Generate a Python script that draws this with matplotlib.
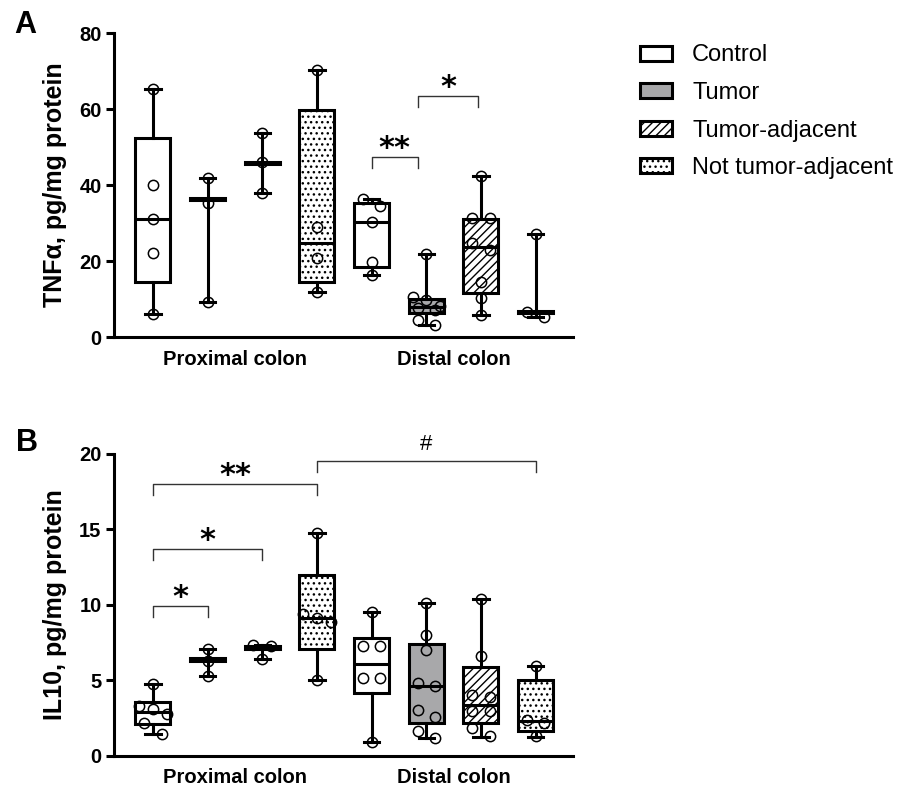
import numpy as np
import matplotlib.pyplot as plt
from matplotlib.patches import Patch

plt.rcParams['font.family'] = ['Liberation Sans', 'DejaVu Sans']
plt.rcParams['hatch.linewidth'] = 1.0

GROUPS = ['Control', 'Tumor', 'Tumor-adjacent', 'Not tumor-adjacent']
REGIONS = ['Proximal colon', 'Distal colon']

# boxes: 4 proximal then 4 distal, groups in GROUPS order
# each row: [whisker low, Q1, median, Q3, whisker high]
TNF_STATS = [
    [6.0, 14.6, 31.0, 52.4, 65.2],
    [9.3, 36.0, 36.3, 36.6, 41.9],
    [38.0, 45.6, 45.9, 46.2, 53.8],
    [11.9, 14.6, 24.8, 59.7, 70.4],
    [16.3, 18.5, 30.3, 35.3, 36.4],
    [3.2, 6.2, 8.0, 9.9, 21.8],
    [5.8, 11.5, 23.8, 31.0, 42.4],
    [5.3, 6.2, 6.5, 6.8, 27.1],
]
TNF_POINTS = [
    [65.2, 40.0, 31.0, 22.2, 6.0],
    [41.9, 35.4, 9.3],
    [53.8, 46.0, 38.0],
    [70.4, 29.1, 20.7, 11.9],
    [36.4, 34.5, 30.3, 19.8, 16.3],
    [21.8, 10.6, 9.7, 8.2, 7.6, 7.2, 4.5, 3.2],
    [42.4, 31.4, 31.4, 24.8, 22.9, 14.6, 10.2, 5.8],
    [27.1, 6.7, 5.3],
]

IL10_STATS = [
    [1.45, 2.1, 2.9, 3.6, 4.75],
    [5.27, 6.28, 6.38, 6.48, 7.09],
    [6.45, 7.05, 7.15, 7.25, 7.35],
    [5.05, 7.09, 9.15, 11.96, 14.73],
    [0.95, 4.16, 6.11, 7.82, 9.52],
    [1.18, 2.17, 4.6, 7.38, 10.15],
    [1.28, 2.17, 3.39, 5.87, 10.37],
    [1.28, 1.62, 2.33, 5.0, 5.93],
]
IL10_POINTS = [
    [4.75, 3.3, 3.1, 2.75, 2.15, 1.45],
    [7.09, 6.3, 5.27],
    [7.35, 7.3, 6.45],
    [14.73, 9.4, 9.15, 8.88, 5.05],
    [9.52, 7.3, 7.3, 5.16, 5.16, 0.95],
    [10.15, 8.04, 7.0, 4.83, 4.6, 3.01, 2.57, 1.68, 1.18],
    [10.37, 6.6, 4.05, 3.9, 2.95, 2.95, 1.84, 1.33],
    [5.93, 2.39, 2.17, 1.33],
]

# significance brackets: (from box, to box, bracket height, label)
TNF_SIG = [(5, 5.85, 47.4, '**'), (5.85, 6.95, 63.5, '*')]
IL10_SIG = [(1, 2, 9.92, '*'), (1, 3, 13.7, '*'), (1, 4, 18.0, '**'), (4, 8, 19.55, '#')]

FACES = ['white', '#a8a8aa', 'white', 'white']
HATCHES = [None, None, '////', '...']


def spread(values, tol):
    """Horizontal offsets so that close values sit side by side."""
    vals = sorted(values, reverse=True)
    xs, ys = [], []
    i = 0
    while i < len(vals):
        grp = [vals[i]]
        j = i + 1
        while j < len(vals) and vals[i] - vals[j] <= tol:
            grp.append(vals[j])
            j += 1
        n = len(grp)
        step = 0.32 if n == 2 else 0.25
        for k, v in enumerate(grp):
            xs.append((k - (n - 1) / 2) * step)
            ys.append(v)
        i = j
    return np.array(xs), np.array(ys)


def draw_panel(ax, stats, points, sig, ymax, yticks, ylabel):
    bstats = []
    for s in stats:
        bstats.append(dict(whislo=s[0], q1=s[1], med=s[2], q3=s[3], whishi=s[4], fliers=[]))
    pos = np.arange(1, len(stats) + 1)
    lw = 2.2
    art = ax.bxp(bstats, positions=pos, widths=0.64, capwidths=0.28, patch_artist=True,
                 showfliers=False,
                 boxprops=dict(linewidth=lw, edgecolor='black'),
                 whiskerprops=dict(linewidth=lw, color='black'),
                 capprops=dict(linewidth=lw, color='black'),
                 medianprops=dict(linewidth=lw, color='black'))
    for i, box in enumerate(art['boxes']):
        box.set_facecolor(FACES[i % 4])
        if HATCHES[i % 4]:
            box.set_hatch(HATCHES[i % 4])

    for i, vals in enumerate(points):
        dx, vy = spread(vals, 0.035 * ymax)
        ax.plot(pos[i] + dx, vy, 'o', ms=7.4, mfc='none', mec='black', mew=1.1,
                zorder=5, clip_on=False)

    leg = ymax * 0.0375
    for x0, x1, h, lab in sig:
        ax.plot([x0, x0, x1, x1], [h - leg, h, h, h - leg], color='#333333', lw=1.0,
                clip_on=False)
        if lab == '#':
            ax.annotate(lab, ((x0 + x1) / 2, h), xytext=(0, 8), textcoords='offset points',
                        ha='center', va='baseline', fontsize=16, annotation_clip=False)
        else:
            ax.annotate(lab, ((x0 + x1) / 2, h), xytext=(0, 0), textcoords='offset points',
                        ha='center', va='baseline', fontsize=22, fontweight='bold',
                        family='DejaVu Sans', annotation_clip=False)

    ax.set_xlim(0.29, 8.68)
    ax.set_ylim(0, ymax)
    ax.set_yticks(yticks)
    ax.set_xticks([2.5, 6.5])
    ax.set_xticklabels(REGIONS, fontsize=14.5, fontweight='bold')
    for t in ax.get_yticklabels():
        t.set_fontweight('bold')
        t.set_fontsize(14.5)
    ax.tick_params(axis='y', width=lw, length=6, pad=3)
    ax.tick_params(axis='x', length=0, pad=9)
    ax.spines['top'].set_visible(False)
    ax.spines['right'].set_visible(False)
    ax.spines['left'].set_linewidth(lw)
    ax.spines['bottom'].set_linewidth(lw)
    ax.set_ylabel(ylabel, fontsize=18, fontweight='bold', labelpad=9)


def main():
    fig = plt.figure(figsize=(9.05, 7.93), dpi=100)
    ax_a = fig.add_axes([0.126, 0.575, 0.507, 0.383])
    ax_b = fig.add_axes([0.126, 0.0467, 0.507, 0.381])

    draw_panel(ax_a, TNF_STATS, TNF_POINTS, TNF_SIG, 80, [0, 20, 40, 60, 80],
               'TNF\u03b1, pg/mg protein')
    draw_panel(ax_b, IL10_STATS, IL10_POINTS, IL10_SIG, 20, [0, 5, 10, 15, 20],
               'IL10, pg/mg protein')

    fig.text(0.016, 0.988, 'A', fontsize=22, fontweight='bold', va='top')
    fig.text(0.018, 0.46, 'B', fontsize=22, fontweight='bold', va='top')

    handles = [Patch(facecolor=FACES[i], edgecolor='black', hatch=HATCHES[i], linewidth=2.2)
               for i in range(4)]
    fig.legend(handles, GROUPS, loc='upper left', bbox_to_anchor=(0.707, 0.944),
               frameon=False, fontsize=17, handlelength=1.36, handleheight=0.6,
               handletextpad=0.85, labelspacing=0.66, borderaxespad=0, borderpad=0)

    fig.savefig('out.png', dpi=100)


if __name__ == '__main__':
    main()
